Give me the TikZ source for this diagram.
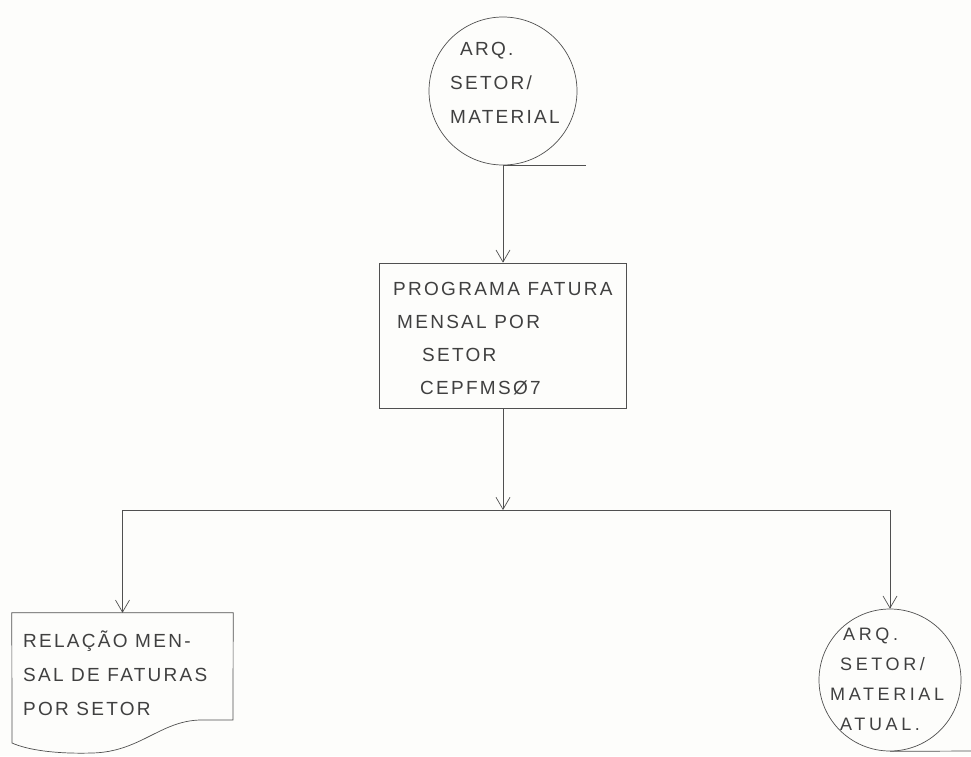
\documentclass[tikz,border=0pt]{standalone}
\usepackage{fontspec}
\newfontfamily\hand[LetterSpace=12]{Liberation Sans}
\newfontfamily\handwide[LetterSpace=20]{Liberation Sans}
\usetikzlibrary{arrows.meta}
\definecolor{ink}{HTML}{505050}
\definecolor{penc}{HTML}{404040}
\definecolor{paper}{HTML}{FDFDFB}
\tikzset{
  line/.style={draw=ink, line width=0.7pt},
  flow/.style={line, -{Straight Barb[length=12pt,width=14pt,line width=0.7pt]}},
  filecirc/.style={circle, line, inner sep=0pt},
  procbox/.style={rectangle, line, inner sep=0pt},
  % multi-line text: the base anchor sits on the last line's baseline
  handtext/.style={inner sep=0pt, align=left, text=penc, anchor=base west,
    font=\hand\fontsize{19}{34}\selectfont},
}
\begin{document}
\begin{tikzpicture}[x=1pt, y=-1pt]
  % page
  \fill[paper] (0,0) rectangle (971,756);
  \useasboundingbox (0,0) rectangle (971,756);

  % input file
  \node[filecirc, minimum size=148pt] (arq) at (503,91) {};
  \node[handtext] (arqtxt) at (450,123)
    {\hspace*{10pt}ARQ.\\SETOR/\\MATERIAL};
  \draw[line] (arq.south) -- ++(83,0) coordinate (arqtail);

  % program
  \node[procbox, minimum width=247pt, minimum height=145pt] (prog) at (503,335.5) {};
  \node[handtext, font=\hand\fontsize{19}{33}\selectfont] (progtxt) at (393,394)
    {PROGRAMA FATURA\\\hspace*{4pt}MENSAL POR\\\hspace*{29pt}SETOR\\\hspace*{27pt}CEPFMSØ7};

  % split
  \coordinate (split) at (503,510);
  \coordinate (lft) at (122.5,510);
  \coordinate (rgt) at (890,510);

  % report (document shape)
  \node[rectangle, inner sep=0pt, minimum width=221pt, minimum height=130pt] (rel) at (122.5,678) {};
  \draw[line] (rel.north west) -- (rel.north east) -- (233,720)
     -- (200,720) .. controls (160,721) and (140,752) .. (92,753)
     .. controls (55,754) and (28,750) .. (12,743) -- cycle;
  \node[handtext] (reltxt) at (23,715)
    {RELAÇÃO MEN-\\SAL DE FATURAS\\POR SETOR};

  % output file
  \node[filecirc, minimum size=142pt] (atual) at (890,680) {};
  \node[handtext, font=\handwide\fontsize{18}{30}\selectfont] (atualtxt) at (830,730)
    {\hspace*{13pt}ARQ.\\\hspace*{10pt}SETOR/\\MATERIAL\\\hspace*{10pt}ATUAL.};
  \coordinate (edge) at (971,751);
  \draw[line] (atual.south) -- (edge);

  % connectors
  \draw[flow] (arq.south) -- (prog.north);
  \draw[flow] (prog.south) -- (split);
  \draw[line] (lft) -- (rgt);
  \draw[flow] (lft) -- (rel.north);
  \draw[flow] (rgt) -- (atual.north);
\end{tikzpicture}
\end{document}
